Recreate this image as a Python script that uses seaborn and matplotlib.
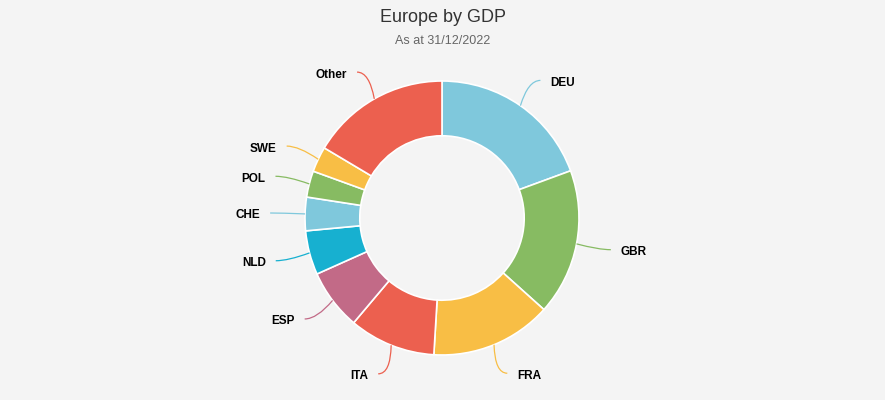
import numpy as np
import matplotlib
matplotlib.use("Agg")
import matplotlib.pyplot as plt
from matplotlib.path import Path
from matplotlib.patches import PathPatch
import seaborn as sns

countries = ["DEU", "GBR", "FRA", "ITA", "ESP", "NLD", "CHE", "POL", "SWE", "Other"]
gdp_share = [19.4, 17.25, 14.3, 10.2, 7.15, 5.2, 3.95, 3.1, 3.0, 16.45]
palette_hex = ["#7fc8dc", "#87bb62", "#f8be45", "#ec604f", "#c26a87", "#17b0d0"]
title = "Europe by GDP"
subtitle = "As at 31/12/2022"

sns.set_theme(style="white")
plt.rcParams["font.family"] = ["Liberation Sans", "DejaVu Sans"]

bg = "#f4f4f4"
W, H = 885, 400
fig = plt.figure(figsize=(W / 100, H / 100), dpi=100, facecolor=bg)
ax = fig.add_axes([0, 0, 1, 1])
ax.set_facecolor(bg)

pal = sns.color_palette(palette_hex)
colors = [pal[i % len(pal)] for i in range(len(countries))]

cx, cy, R = 442, 400 - 218, 137
wedges, _ = ax.pie(gdp_share, colors=colors, startangle=90, counterclock=False,
                   radius=R, center=(cx, cy),
                   wedgeprops=dict(width=R * 0.4, edgecolor="white", linewidth=1.2))

ax.set_xlim(0, W)
ax.set_ylim(0, H)
ax.set_aspect("equal")
ax.axis("off")

total = sum(gdp_share)
cum = 0.0
for name, v, col in zip(countries, gdp_share, colors):
    mid = (cum + v / 2) / total * 2 * np.pi
    cum += v
    dx, dy = np.sin(mid), np.cos(mid)
    p0 = (cx + R * dx, cy + R * dy)
    p2 = (cx + 1.255 * R * dx, cy + 1.225 * R * dy)
    side = 1 if dx >= 0 else -1
    p1 = (p2[0] - side * 0.09 * R, p2[1])
    path = Path([p0, p1, p2], [Path.MOVETO, Path.CURVE3, Path.CURVE3])
    ax.add_patch(PathPatch(path, facecolor="none", edgecolor=col, linewidth=0.9))
    ax.text(p2[0] + side * 10, p2[1] - 2.5, name, ha="left" if side > 0 else "right",
            va="center", fontsize=8.5, fontweight="bold", color="#000000")

fig.text(0.5, 1 - 17.5 / H, title, ha="center", va="center", fontsize=13, color="#333333")
fig.text(0.5, 1 - 41 / H, subtitle, ha="center", va="center", fontsize=9, color="#666666")

fig.savefig("out.png", dpi=100, facecolor=bg)
